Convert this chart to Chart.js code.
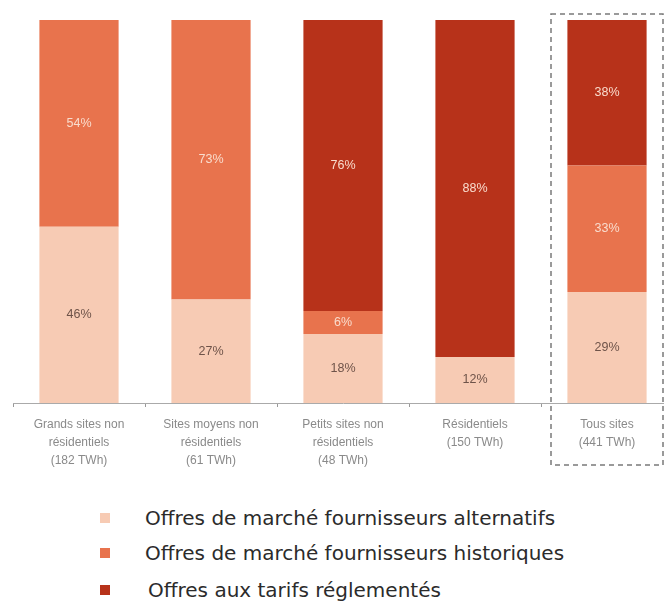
<!DOCTYPE html>
<html>
<head>
<meta charset="utf-8">
<script src="https://cdn.jsdelivr.net/npm/chart.js@4/dist/chart.umd.min.js"></script>
<style>
  html, body { margin: 0; padding: 0; background: #fff; overflow: hidden; width: 664px; height: 601px; }
  #wrap { position: absolute; left: 0; top: 0; width: 680px; height: 480px; }
  #legend { position: absolute; left: 0; top: 0; font-family: "DejaVu Sans", sans-serif; font-size: 20px; color: #2b2b2b; }
  .row { position: absolute; left: 100px; white-space: nowrap; height: 22px; line-height: 22px; }
  .sw { position: absolute; left: 0; top: 6px; width: 10px; height: 10px; }
  .lt { position: absolute; left: 45px; top: 0; }
</style>
</head>
<body>
<div id="wrap"><canvas id="c" width="680" height="480"></canvas></div>
<div id="legend"></div>
<script>
const categories = [
  ["Grands sites non", "résidentiels", "(182 TWh)"],
  ["Sites moyens non", "résidentiels", "(61 TWh)"],
  ["Petits sites non", "résidentiels", "(48 TWh)"],
  ["Résidentiels", "(150 TWh)"],
  ["Tous sites", "(441 TWh)"]
];
const seriesNames = [
  "Offres de marché fournisseurs alternatifs",
  "Offres de marché fournisseurs historiques",
  "Offres aux tarifs réglementés"
];
const alternatifs = [46, 27, 18, 12, 29];
const historiques = [54, 73, 6, 0, 33];
const reglementes = [0, 0, 76, 88, 38];

const colors = ["#F7CBB4", "#E8734D", "#B7321A"];
const labelColors = ["#6E5349", "#F9DCCD", "#F9DCCD"];

const labelPlugin = {
  id: "segLabels",
  afterDatasetsDraw(chart) {
    const ctx = chart.ctx;
    ctx.save();
    ctx.font = "12.5px 'Liberation Sans', Arial, sans-serif";
    ctx.textAlign = "center";
    ctx.textBaseline = "middle";
    chart.data.datasets.forEach((ds, di) => {
      const meta = chart.getDatasetMeta(di);
      meta.data.forEach((el, i) => {
        const v = ds.data[i];
        if (!v) return;
        ctx.fillStyle = labelColors[di];
        ctx.fillText(v + "%", el.x, (el.y + el.base) / 2);
      });
    });
    ctx.restore();
  }
};

const boxPlugin = {
  id: "dashBox",
  afterDraw(chart) {
    const x = chart.scales.x;
    const a = chart.chartArea;
    const cx = x.getPixelForValue(4);
    const ctx = chart.ctx;
    ctx.save();
    ctx.strokeStyle = "#7a7a7a";
    ctx.lineWidth = 1.5;
    ctx.setLineDash([5, 4]);
    ctx.strokeRect(cx - 56, a.top - 6, 112, a.bottom - a.top + 68);
    ctx.restore();
  }
};

new Chart(document.getElementById("c"), {
  type: "bar",
  data: {
    labels: categories,
    datasets: [
      { label: seriesNames[0], data: alternatifs, backgroundColor: colors[0] },
      { label: seriesNames[1], data: historiques, backgroundColor: colors[1] },
      { label: seriesNames[2], data: reglementes, backgroundColor: colors[2] }
    ]
  },
  options: {
    responsive: false,
    animation: false,
    layout: { padding: { top: 20, left: 13, right: 7, bottom: 1 } },
    datasets: { bar: { barPercentage: 0.6, categoryPercentage: 1.0 } },
    plugins: { legend: { display: false }, tooltip: { enabled: false } },
    scales: {
      x: {
        stacked: true,
        offset: true,
        grid: { offset: true, drawOnChartArea: false, drawTicks: true, tickLength: 4, color: "#999" },
        border: { display: true, color: "#aaa", width: 1 },
        ticks: {
          color: "#8a8a8a",
          padding: 9,
          maxRotation: 0,
          autoSkip: false,
          font: { family: "'Liberation Sans', Arial, sans-serif", size: 12, lineHeight: 1.5 }
        }
      },
      y: { stacked: true, min: 0, max: 100, display: false }
    }
  },
  plugins: [labelPlugin, boxPlugin]
});

const legendEl = document.getElementById("legend");
const rowTops = [507, 542, 579];
const textLefts = [45, 45, 48];
seriesNames.forEach((n, i) => {
  const r = document.createElement("div");
  r.className = "row";
  r.style.top = rowTops[i] + "px";
  r.innerHTML = '<span class="sw" style="background:' + colors[i] + '"></span><span class="lt"></span>';
  const t = r.querySelector(".lt");
  t.textContent = n;
  t.style.left = textLefts[i] + "px";
  legendEl.appendChild(r);
});
</script>
</body>
</html>
